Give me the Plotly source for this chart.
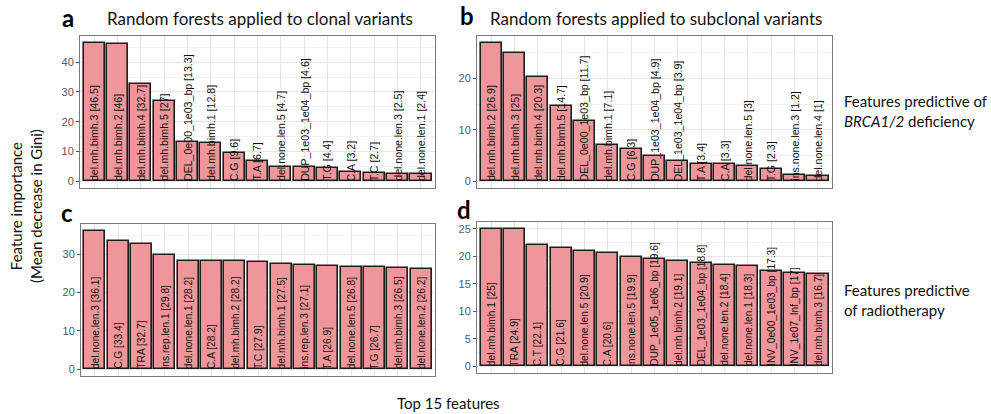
import plotly.graph_objects as go

# Top 15 random-forest features per model (mean decrease in Gini)
clonal_features = [
    "del.mh.bimh.3", "del.mh.bimh.2", "del.mh.bimh.4", "del.mh.bimh.5",
    "DEL_0e00_1e03_bp", "del.mh.bimh.1", "C.G", "T.A", "del.none.len.5",
    "DUP_1e03_1e04_bp", "T.G", "C.A", "T.C", "del.none.len.3", "del.none.len.1",
]
clonal_values = [46.5, 46, 32.7, 27, 13.3, 12.8, 9.6, 6.7, 4.7, 4.6, 4.4, 3.2, 2.7, 2.5, 2.4]

subclonal_features = [
    "del.mh.bimh.2", "del.mh.bimh.3", "del.mh.bimh.4", "del.mh.bimh.5",
    "DEL_0e00_1e03_bp", "del.mh.bimh.1", "C.G", "DUP_1e03_1e04_bp",
    "DEL_1e03_1e04_bp", "T.A", "C.A", "del.none.len.5", "T.G",
    "ins.none.len.3", "del.none.len.4",
]
subclonal_values = [26.9, 25, 20.3, 14.7, 11.7, 7.1, 6.3, 4.9, 3.9, 3.4, 3.3, 3, 2.3, 1.2, 1]

radio_clonal_features = [
    "del.none.len.3", "C.G", "TRA", "ins.rep.len.1", "del.none.len.1", "C.A",
    "del.mh.bimh.2", "T.C", "del.mh.bimh.1", "ins.rep.len.3", "T.A",
    "del.none.len.5", "T.G", "del.mh.bimh.3", "del.none.len.2",
]
radio_clonal_values = [36.1, 33.4, 32.7, 29.8, 28.2, 28.2, 28.2, 27.9, 27.5, 27.1, 26.9, 26.8, 26.7, 26.5, 26.2]

radio_subclonal_features = [
    "del.mh.bimh.1", "TRA", "C.T", "C.G", "del.none.len.5", "C.A",
    "ins.none.len.5", "DUP_1e05_1e06_bp", "del.mh.bimh.2", "DEL_1e03_1e04_bp",
    "del.none.len.2", "del.none.len.1", "INV_0e00_1e03_bp", "INV_1e07_Inf_bp",
    "del.mh.bimh.3",
]
radio_subclonal_values = [25, 24.9, 22.1, 21.6, 20.9, 20.6, 19.9, 19.6, 19.1, 18.8, 18.4, 18.3, 17.3, 17, 16.7]

y_ticks_a = [0, 10, 20, 30, 40]
y_ticks_b = [0, 10, 20]
y_ticks_c = [0, 10, 20, 30]
y_ticks_d = [0, 5, 10, 15, 20, 25]

W, H = 991, 414
BAR_FILL = "#EE969A"
BAR_LINE = "#1E1E1E"

# panel boxes in pixels: (left, right, top, bottom)
panels = [
    ("a", clonal_features, clonal_values, y_ticks_a, 5, (80, 435, 36, 188), 10.6),
    ("b", subclonal_features, subclonal_values, y_ticks_b, 5, (477, 832, 36, 188), 10.6),
    ("c", radio_clonal_features, radio_clonal_values, y_ticks_c, 5, (81, 435, 224, 376), 10.2),
    ("d", radio_subclonal_features, radio_subclonal_values, y_ticks_d, 2.5, (477, 832, 222, 373), 10.2),
]

fig = go.Figure()
annotations = []

for i, (letter, feats, vals, yt, minor_step, box, lab_size) in enumerate(panels, start=1):
    left, right, top, bottom = box
    xs = list(range(1, len(feats) + 1))
    vmax = max(vals)
    pad = 0.05 * vmax
    xa = "x" if i == 1 else f"x{i}"
    ya = "y" if i == 1 else f"y{i}"
    fig.add_trace(go.Bar(
        x=xs, y=vals, width=0.9,
        marker=dict(color=BAR_FILL, line=dict(color=BAR_LINE, width=1.6)),
        xaxis=xa, yaxis=ya, showlegend=False, hoverinfo="skip",
    ))
    axis_common = dict(
        showline=True, mirror=True, linecolor="#7A7A7A", linewidth=1,
        zeroline=False, gridcolor="#E6E6E6", gridwidth=1,
    )
    fig.update_layout(**{
        ("xaxis" if i == 1 else f"xaxis{i}"): dict(
            domain=[left / W, right / W], anchor=ya,
            range=[0.4, len(feats) + 0.6], tickvals=xs, showticklabels=False,
            ticks="", **axis_common,
        ),
        ("yaxis" if i == 1 else f"yaxis{i}"): dict(
            domain=[1 - bottom / H, 1 - top / H], anchor=xa,
            range=[-pad, vmax + pad], tickvals=yt,
            ticks="outside", ticklen=3, tickcolor="#555555", tickwidth=1,
            tickfont=dict(family="Liberation Sans, Arial", size=11, color="#5A5A5A"),
            minor=dict(dtick=minor_step, tick0=0, showgrid=True, gridcolor="#F2F2F2", gridwidth=0.6),
            **axis_common,
        ),
    })
    for x, f, v in zip(xs, feats, vals):
        annotations.append(dict(
            x=x, y=0, xref=xa, yref=ya, text=f"{f} [{v:g}]",
            textangle=-90, xanchor="center", yanchor="bottom", yshift=-1,
            showarrow=False, borderpad=0,
            font=dict(family="Liberation Sans, Arial", size=lab_size, color="#111111"),
        ))

title_font = dict(family="Lato", size=17, color="#111111")
letter_font = dict(family="Lato", size=24, color="#000000", weight="bold")
side_font = dict(family="Lato", size=15, color="#111111")

def paper(px, py, **kw):
    d = dict(x=px / W, y=1 - py / H, xref="paper", yref="paper", showarrow=False)
    d.update(kw)
    return d

annotations += [
    paper(68, 18, text="<b>a</b>", font=letter_font, xanchor="center", yanchor="middle"),
    paper(467, 16, text="<b>b</b>", font=letter_font, xanchor="center", yanchor="middle"),
    paper(67, 212, text="<b>c</b>", font=letter_font, xanchor="center", yanchor="middle"),
    paper(464, 209, text="<b>d</b>", font=letter_font, xanchor="center", yanchor="middle"),
    paper(259.5, 19, text="Random forests applied to clonal variants", font=title_font,
          xanchor="center", yanchor="middle"),
    paper(655.5, 19, text="Random forests applied to subclonal variants", font=title_font,
          xanchor="center", yanchor="middle"),
    paper(842, 111, text="Features predictive of<br><i>BRCA1/2</i> deficiency", font=side_font,
          xanchor="left", yanchor="middle", align="left"),
    paper(842, 300, text="Features predictive<br>of radiotherapy", font=side_font,
          xanchor="left", yanchor="middle", align="left"),
    paper(26, 206, text="Feature importance<br>(Mean decrease in Gini)", font=side_font,
          textangle=-90, xanchor="center", yanchor="middle", align="center"),
    paper(448, 403, text="Top 15 features", font=side_font, xanchor="center", yanchor="middle"),
]

fig.update_layout(
    width=W, height=H, margin=dict(l=0, r=0, t=0, b=0),
    paper_bgcolor="white", plot_bgcolor="white",
    bargap=0, annotations=annotations,
)

fig.write_html("out.html")
